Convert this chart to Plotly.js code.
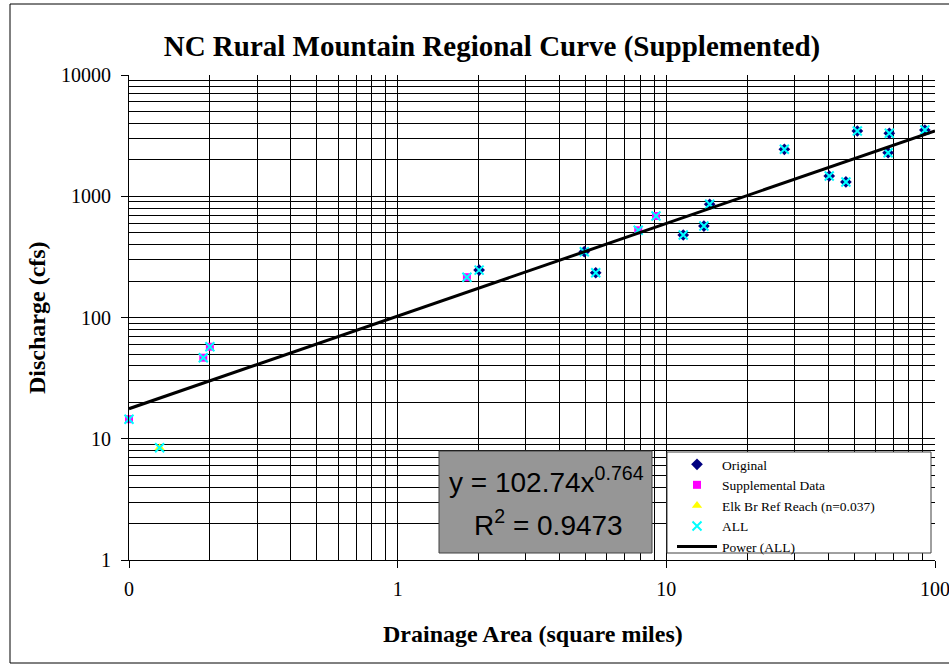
<!DOCTYPE html>
<html><head><meta charset="utf-8">
<script src="https://cdn.plot.ly/plotly-3.0.1.min.js"></script>
<style>html,body{margin:0;padding:0;background:#fff}#chart{width:949px;height:669px}</style>
</head><body><div id="chart"></div>
<script>
// Data
const origX = [2.01, 4.95, 5.46, 11.56, 13.8, 14.5, 27.5, 40.4, 46.6, 51.4, 66.9, 67.6, 91.7];
const origY = [246, 349, 234, 479, 568, 859, 2438, 1469, 1312, 3452, 2286, 3304, 3517];
const suppX = [0.1, 0.189, 0.2, 1.81, 7.86, 9.15];
const suppY = [14.5, 46.6, 57.4, 215, 524, 687];
const elkX = [0.13];
const elkY = [8.44];
const allX = origX.concat(suppX, elkX);
const allY = origY.concat(suppY, elkY);
// Power trendline shown on the chart: y = 102.74 x^0.764
const fitA = 102.74, fitB = 0.764;
const fitX = [0.1, 100];
const fitY = fitX.map(x => fitA * Math.pow(x, fitB));

const xTickVals = [0.1, 1, 10, 100];
const xTickText = ['0', '1', '10', '100'];
const xMinorVals = [0.2,0.3,0.4,0.5,0.6,0.7,0.8,0.9,2,3,4,5,6,7,8,9,20,30,40,50,60,70,80,90];
const yTickVals = [1, 10, 100, 1000, 10000];
const yTickText = ['1', '10', '100', '1000', '10000'];
const yMinorVals = [2,3,4,5,6,7,8,9,20,30,40,50,60,70,80,90,200,300,400,500,600,700,800,900,2000,3000,4000,5000,6000,7000,8000,9000];

const serif = 'Liberation Serif, Times New Roman, serif';
const sans = 'Liberation Sans, Arial, sans-serif';

const traces = [
  {x: origX, y: origY, mode: 'markers', type: 'scatter', name: 'Original', cliponaxis: false,
   marker: {symbol: 'diamond', size: 9, color: '#000080'}},
  {x: suppX, y: suppY, mode: 'markers', type: 'scatter', name: 'Supplemental Data', cliponaxis: false,
   marker: {symbol: 'square', size: 8, color: '#FF00FF'}},
  {x: elkX, y: elkY, mode: 'markers', type: 'scatter', name: 'Elk Br Ref Reach (n=0.037)', cliponaxis: false,
   marker: {symbol: 'triangle-up', size: 9, color: '#FFFF00'}},
  {x: allX, y: allY, mode: 'markers', type: 'scatter', name: 'ALL', cliponaxis: false,
   marker: {symbol: 'x-thin', size: 9, color: '#00FFFF', line: {color: '#00FFFF', width: 2}}},
  {x: fitX, y: fitY, mode: 'lines', type: 'scatter', name: 'Power (ALL)',
   line: {color: '#000', width: 3}}
];

const W = 806, H = 485, L = 129, T = 75;
const px = v => (v - L) / W;
const py = v => (T + H - v) / H;

const layout = {
  width: 949, height: 669,
  margin: {l: L, r: 949 - L - W, t: T, b: 669 - T - H, pad: 0},
  paper_bgcolor: '#fff', plot_bgcolor: '#fff',
  showlegend: true,
  title: {text: '<b>NC Rural Mountain Regional Curve (Supplemented)</b>',
          font: {family: serif, size: 29, color: '#000'},
          x: 492 / 949, xref: 'container', xanchor: 'center',
          y: 1 - 46 / 669, yref: 'container', yanchor: 'middle'},
  xaxis: {type: 'log', range: [-1, 2], tickmode: 'array', tickvals: xTickVals, ticktext: xTickText,
          ticks: 'outside', ticklen: 7, tickcolor: '#000', tickwidth: 1, ticklabelstandoff: 4,
          ticklabeloverflow: 'allow',
          showgrid: true, gridcolor: '#000', gridwidth: 1,
          showline: true, linecolor: '#000', linewidth: 1, zeroline: false,
          minor: {tickmode: 'array', tickvals: xMinorVals, showgrid: true, gridcolor: '#000', gridwidth: 1, ticks: ''},
          tickfont: {family: serif, size: 20, color: '#000'}, automargin: false},
  yaxis: {type: 'log', range: [0, 4], tickmode: 'array', tickvals: yTickVals, ticktext: yTickText,
          ticks: 'outside', ticklen: 7, tickcolor: '#000', tickwidth: 1, ticklabelstandoff: 6,
          showgrid: true, gridcolor: '#000', gridwidth: 1,
          showline: true, linecolor: '#000', linewidth: 1, zeroline: false,
          minor: {tickmode: 'array', tickvals: yMinorVals, showgrid: true, gridcolor: '#000', gridwidth: 1, ticks: ''},
          tickfont: {family: serif, size: 20, color: '#000'}, automargin: false},
  legend: {x: px(672), y: py(449), xanchor: 'left', yanchor: 'top', itemwidth: 40,
           bgcolor: 'rgba(0,0,0,0)', borderwidth: 0,
           font: {family: serif, size: 13.5, color: '#000'}, tracegroupgap: 0},
  shapes: [
    {type: 'rect', xref: 'paper', yref: 'paper', x0: px(10), x1: px(960), y0: py(663), y1: py(4),
     line: {color: '#000', width: 1}, fillcolor: 'rgba(0,0,0,0)', layer: 'below'},
    {type: 'rect', xref: 'paper', yref: 'paper', x0: px(439), x1: px(652), y0: py(553), y1: py(451),
     line: {color: '#404040', width: 1}, fillcolor: '#969696', layer: 'above'},
    {type: 'rect', xref: 'paper', yref: 'paper', x0: px(667), x1: px(931), y0: py(553), y1: py(452),
     line: {color: '#404040', width: 1}, fillcolor: '#fff', layer: 'above'}
  ],
  annotations: [
    {text: 'y = 102.74x<sup>0.764</sup>', xref: 'paper', yref: 'paper', x: px(546), y: py(480),
     xanchor: 'center', yanchor: 'middle', showarrow: false, font: {family: sans, size: 28, color: '#000'}},
    {text: 'R<sup>2</sup> = 0.9473', xref: 'paper', yref: 'paper', x: px(548), y: py(523),
     xanchor: 'center', yanchor: 'middle', showarrow: false, font: {family: sans, size: 28, color: '#000'}},
    {text: '<b>Drainage Area (square miles)</b>', xref: 'paper', yref: 'paper', x: px(533), y: py(634),
     xanchor: 'center', yanchor: 'middle', showarrow: false, font: {family: serif, size: 24, color: '#000'}},
    {text: '<b>Discharge (cfs)</b>', xref: 'paper', yref: 'paper', x: px(37), y: py(318),
     xanchor: 'center', yanchor: 'middle', showarrow: false, textangle: -90, font: {family: serif, size: 24, color: '#000'}}
  ]
};

Plotly.newPlot('chart', traces, layout, {displayModeBar: false, staticPlot: true});
</script>
</body></html>
